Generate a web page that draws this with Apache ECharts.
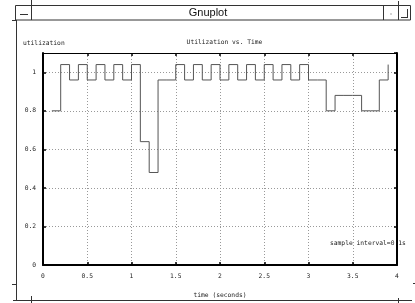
<!DOCTYPE html>
<html>
<head>
<meta charset="utf-8">
<script src="https://cdn.jsdelivr.net/npm/echarts@6/dist/echarts.min.js"></script>
<style>
html,body{margin:0;padding:0;background:#fff;}
#chart{width:415px;height:303px;}
</style>
</head>
<body>
<div id="chart"></div>
<script>
// ---- data ----
var times = [0.1,0.2,0.3,0.4,0.5,0.6,0.7,0.8,0.9,1.0,1.1,1.2,1.3,1.4,1.5,1.6,1.7,1.8,1.9,2.0,
             2.1,2.2,2.3,2.4,2.5,2.6,2.7,2.8,2.9,3.0,3.1,3.2,3.3,3.4,3.5,3.6,3.7,3.8,3.9];
var utilization = [0.80,1.04,0.96,1.04,0.96,1.04,0.96,1.04,0.96,1.04,0.64,0.48,0.96,0.96,1.04,0.96,1.04,0.96,1.04,0.96,
                   1.04,0.96,1.04,0.96,1.04,0.96,1.04,0.96,1.04,0.96,0.96,0.80,0.88,0.88,0.88,0.80,0.80,0.96,1.04];
var xTickLabels = ['0','0.5','1','1.5','2','2.5','3','3.5','4'];
var yTickLabels = ['0','0.2','0.4','0.6','0.8','1'];
var windowTitle = 'Gnuplot';
var chartTitle = 'Utilization vs. Time';
var yName = 'utilization';
var xName = 'time (seconds)';
var note = 'sample interval=0.1s';

var mono = 'DejaVu Sans Mono';
var small = 6.3;
var chart = echarts.init(document.getElementById('chart'), null, {renderer:'canvas'});

function ln(x1,y1,x2,y2){
  return {type:'line', silent:true, shape:{x1:x1,y1:y1,x2:x2,y2:y2}, style:{stroke:'#333', lineWidth:1}};
}

var option = {
  animation:false,
  backgroundColor:'#fff',
  title:{
    text:chartTitle, left:219.5, top:34, textAlign:'center',
    textStyle:{fontFamily:mono, fontSize:small, fontWeight:'normal', color:'#222'}
  },
  grid:{left:43, right:18, top:53, bottom:37, containLabel:false},
  xAxis:[{
    type:'value', min:0, max:4, interval:0.5, position:'bottom',
    name:xName, nameLocation:'middle', nameGap:27,
    nameTextStyle:{fontFamily:mono, fontSize:small, color:'#222'},
    axisLine:{show:true, onZero:false, lineStyle:{color:'#000', width:2}},
    axisTick:{show:true, inside:true, length:3, lineStyle:{color:'#000', width:1.5}},
    axisLabel:{margin:8, fontFamily:mono, fontSize:small, color:'#222',
      formatter:function(v){var i=Math.round(v/0.5); return xTickLabels[i]||'';}},
    splitLine:{show:true, lineStyle:{color:'#999', type:[1,2], width:1}}
  },{
    type:'value', min:0, max:4, interval:0.5, position:'top',
    axisLine:{show:true, onZero:false, lineStyle:{color:'#000', width:1}},
    axisTick:{show:true, inside:true, length:3, lineStyle:{color:'#000', width:1.5}},
    axisLabel:{show:false}, splitLine:{show:false}
  }],
  yAxis:[{
    type:'value', min:0, max:1.1, interval:0.2, position:'left',
    axisLine:{show:true, onZero:false, lineStyle:{color:'#000', width:2}},
    axisTick:{show:true, inside:true, length:3, lineStyle:{color:'#000', width:1.5}},
    axisLabel:{margin:7, showMaxLabel:false, fontFamily:mono, fontSize:small, color:'#222',
      formatter:function(v){var i=Math.round(v/0.2); if(Math.abs(v-i*0.2)>1e-6) return ''; return yTickLabels[i]||'';}},
    splitLine:{show:true, lineStyle:{color:'#999', type:[1,2], width:1}}
  },{
    type:'value', min:0, max:1.1, interval:0.2, position:'right',
    axisLine:{show:true, onZero:false, lineStyle:{color:'#000', width:2}},
    axisTick:{show:true, inside:true, length:3, lineStyle:{color:'#000', width:1.5}},
    axisLabel:{show:false}, splitLine:{show:false}
  }],
  series:[{
    type:'line', step:'end', xAxisIndex:0, yAxisIndex:0,
    data:times.map(function(t,i){return [t, utilization[i]];}),
    showSymbol:false, symbol:'none',
    lineStyle:{color:'#555', width:1}
  }],
  graphic:[
    // window chrome
    {type:'rect', silent:true, shape:{x:15.5,y:5.5,width:395,height:14.5}, style:{fill:'#fff', stroke:'#333', lineWidth:1}},
    ln(31.5,0,31.5,20), ln(383.5,5,383.5,20), ln(398.5,1,398.5,20),
    ln(20,14.5,28,14.5),
    {type:'rect', silent:true, shape:{x:390.5,y:13.5,width:1,height:1}, style:{fill:'#555'}},
    ln(407.5,9,407.5,17.5), ln(401,17.5,408,17.5),
    {type:'text', silent:true, style:{text:windowTitle, x:208, y:13, textAlign:'center', textVerticalAlign:'middle',
      font:'11px "Liberation Sans"', fill:'#111'}},
    ln(12,20.5,16,20.5),
    ln(16.5,20,16.5,301), ln(13,300.5,412,300.5),
    ln(12,284.5,16,284.5), ln(31.5,296,31.5,303),
    ln(413,283.5,415,283.5), ln(398.5,298,398.5,303),
    // labels
    {type:'text', silent:true, style:{text:yName, x:23, y:43, textAlign:'left', textVerticalAlign:'middle',
      font:small+'px "'+mono+'"', fill:'#222'}},
    {type:'text', silent:true, style:{text:note, x:330, y:243, textAlign:'left', textVerticalAlign:'middle',
      font:small+'px "'+mono+'"', fill:'#222'}}
  ]
};
chart.setOption(option);
</script>
</body>
</html>
